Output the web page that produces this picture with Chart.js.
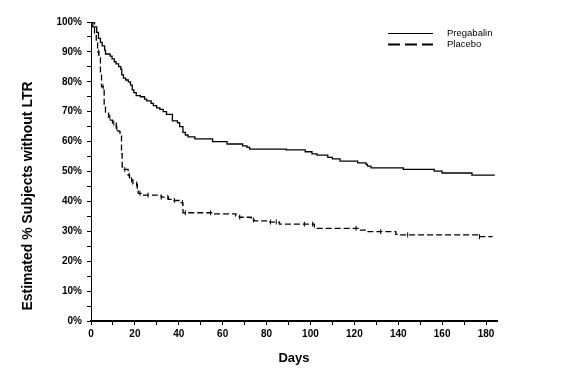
<!DOCTYPE html>
<html>
<head>
<meta charset="utf-8">
<script src="https://cdn.jsdelivr.net/npm/chart.js@4.4.1/dist/chart.umd.min.js"></script>
<style>
  html, body { margin: 0; padding: 0; background: #fff; }
  #wrap { width: 568px; height: 389px; position: relative; }
</style>
</head>
<body>
<div id="wrap"><canvas id="c" width="568" height="389"></canvas></div>
<script>
// ---- Data ----
const seriesNames = ['Pregabalin', 'Placebo'];
const xTitle = 'Days';
const yTitle = 'Estimated % Subjects without LTR';

const pregDays = [0, 0.8, 2.6, 3.4, 4.3, 5.1, 6.2, 6.6, 8.7, 9.6, 10.6, 11.4, 12.6, 13.6, 14.0, 14.8, 15.8, 17.0, 18.0, 18.8, 19.5, 20.6, 22.5, 24.4, 25.4, 27.4, 28.4, 29.9, 31.4, 32.9, 34.4, 37.1, 39.4, 40.4, 41.9, 43.0, 44.2, 47.3, 55.4, 62, 69.1, 71.1, 72.3, 89, 97.6, 100.7, 103, 107.9, 110, 113.5, 121.5, 125.3, 126, 127.6, 142.3, 156.4, 160, 173.6, 184];
const pregVals = [100, 98.4, 96.5, 94.5, 93.2, 92.0, 90.6, 89.3, 88.6, 87.7, 86.7, 86.0, 85.1, 84.2, 82.3, 81.2, 80.6, 80.0, 78.9, 77.3, 76.4, 75.4, 75.0, 74.2, 73.6, 72.8, 72.0, 71.3, 70.8, 70.0, 69.1, 66.9, 66.3, 65.0, 63.1, 62.2, 61.6, 60.9, 60.0, 59.2, 58.6, 58.1, 57.5, 57.2, 56.6, 55.9, 55.5, 54.7, 54.2, 53.5, 52.9, 52.4, 51.8, 51.2, 50.7, 50.1, 49.5, 48.8, 48.8];

const placDays = [0, 1.6, 2.4, 3.0, 3.6, 4.3, 4.8, 6.0, 6.6, 8.0, 8.9, 9.8, 11.5, 12.3, 13.2, 13.9, 14.2, 14.8, 16.9, 17.6, 19.1, 21.1, 21.5, 23.4, 32, 35.3, 37.2, 40.2, 41.9, 55, 66, 67.6, 73, 74.4, 80, 85.9, 101.8, 122.2, 125.3, 138.9, 140.4, 176.8, 183];
const placVals = [100, 96, 93, 90, 88, 83, 78.3, 71.5, 69.9, 68.2, 67.2, 66.2, 64.5, 63.5, 62.5, 56, 51.5, 50.7, 48.8, 47.2, 45.8, 43.5, 42.7, 42.1, 41.4, 40.7, 40.3, 39.6, 36.2, 35.8, 35.1, 34.7, 33.8, 33.5, 33.1, 32.4, 31.0, 30.4, 29.9, 29.0, 28.8, 28.2, 28.2];

const placCensorDays = [3.5, 5.5, 8.6, 10.4, 11.8, 15.4, 17.4, 18.5, 20.8, 22.3, 26, 32, 35, 38, 41.7, 43, 54.5, 67.8, 74, 81.8, 84.4, 97.2, 101, 120.8, 132, 144.3, 177];

const xMax = 185;
const xTickStep = 10, xLabelStep = 20, xLastTick = 180;
const yTickStep = 5, yLabelStep = 10;

// ---- helpers ----
function stepValue(days, vals, d) {
  let v = vals[0];
  for (let i = 0; i < days.length; i++) { if (days[i] <= d) v = vals[i]; }
  return v;
}
const toPts = (xs, ys) => xs.map((x, i) => ({ x: x, y: ys[i] }));

const FONT = '"Liberation Sans", Arial, Helvetica, sans-serif';

const overlay = {
  id: 'overlay',
  afterDraw(chart) {
    const ctx = chart.ctx;
    ctx.save();
    ctx.fillStyle = '#000';
    ctx.font = 'bold 14px ' + FONT;
    ctx.textAlign = 'center';
    ctx.textBaseline = 'middle';
    ctx.translate(28, 196);
    ctx.rotate(-Math.PI / 2);
    ctx.fillText(yTitle, 0, 0);
    ctx.restore();

    // legend
    ctx.save();
    ctx.strokeStyle = '#000';
    ctx.fillStyle = '#000';
    ctx.lineWidth = 1;
    ctx.beginPath(); ctx.moveTo(388, 33.5); ctx.lineTo(433, 33.5); ctx.stroke();
    ctx.lineWidth = 2;
    ctx.setLineDash([12, 5]);
    ctx.beginPath(); ctx.moveTo(388, 44.5); ctx.lineTo(433, 44.5); ctx.stroke();
    ctx.setLineDash([]);
    ctx.font = '9.5px ' + FONT;
    ctx.textAlign = 'left';
    ctx.textBaseline = 'middle';
    ctx.fillText(seriesNames[0], 447, 33);
    ctx.fillText(seriesNames[1], 447, 44);
    ctx.restore();
  }
};

new Chart(document.getElementById('c'), {
  type: 'line',
  data: {
    datasets: [
      { label: seriesNames[0], data: toPts(pregDays, pregVals), stepped: 'before',
        borderColor: '#000', borderWidth: 1.3, pointRadius: 0, fill: false },
      { label: seriesNames[1], data: toPts(placDays, placVals), stepped: 'before',
        borderColor: '#000', borderWidth: 1.3, borderDash: [6, 3], pointRadius: 0, fill: false },
      { type: 'scatter', label: 'censor', showLine: false,
        data: placCensorDays.map(d => ({ x: d, y: stepValue(placDays, placVals, d) })),
        pointStyle: 'line', rotation: 90, pointRadius: 2.5, borderColor: '#000', borderWidth: 1 }
    ]
  },
  options: {
    responsive: false,
    animation: false,
    events: [],
    layout: { padding: { top: 22, right: 71, bottom: 18, left: 0 } },
    plugins: { legend: { display: false }, tooltip: { enabled: false } },
    scales: {
      x: {
        type: 'linear', min: 0, max: xMax,
        afterBuildTicks: s => {
          const t = [];
          for (let v = 0; v <= xLastTick; v += xTickStep) t.push({ value: v });
          s.ticks = t;
        },
        afterFit: s => { s.height = 50; },
        ticks: { stepSize: xTickStep, autoSkip: false, maxRotation: 0, padding: 3, color: '#000',
          font: { family: FONT, size: 10, weight: 'bold' },
          callback: v => (v % xLabelStep === 0 ? String(v) : '') },
        grid: { drawOnChartArea: false, drawTicks: true, tickLength: 4, color: '#000', tickColor: '#000' },
        border: { color: '#000', width: 2 },
        title: { display: true, text: xTitle, color: '#000', padding: { top: 4, bottom: 5 },
          font: { family: FONT, size: 13, weight: 'bold' } }
      },
      y: {
        min: 0, max: 100,
        afterFit: s => { s.width = 91; },
        ticks: { stepSize: yTickStep, autoSkip: false, padding: 5, color: '#000',
          font: { family: FONT, size: 10, weight: 'bold' },
          callback: v => (v % yLabelStep === 0 ? v + '%' : '') },
        grid: { drawOnChartArea: false, drawTicks: true, tickLength: 4, color: '#000', tickColor: '#000' },
        border: { color: '#000', width: 1 }
      }
    }
  },
  plugins: [overlay]
});
</script>
</body>
</html>
